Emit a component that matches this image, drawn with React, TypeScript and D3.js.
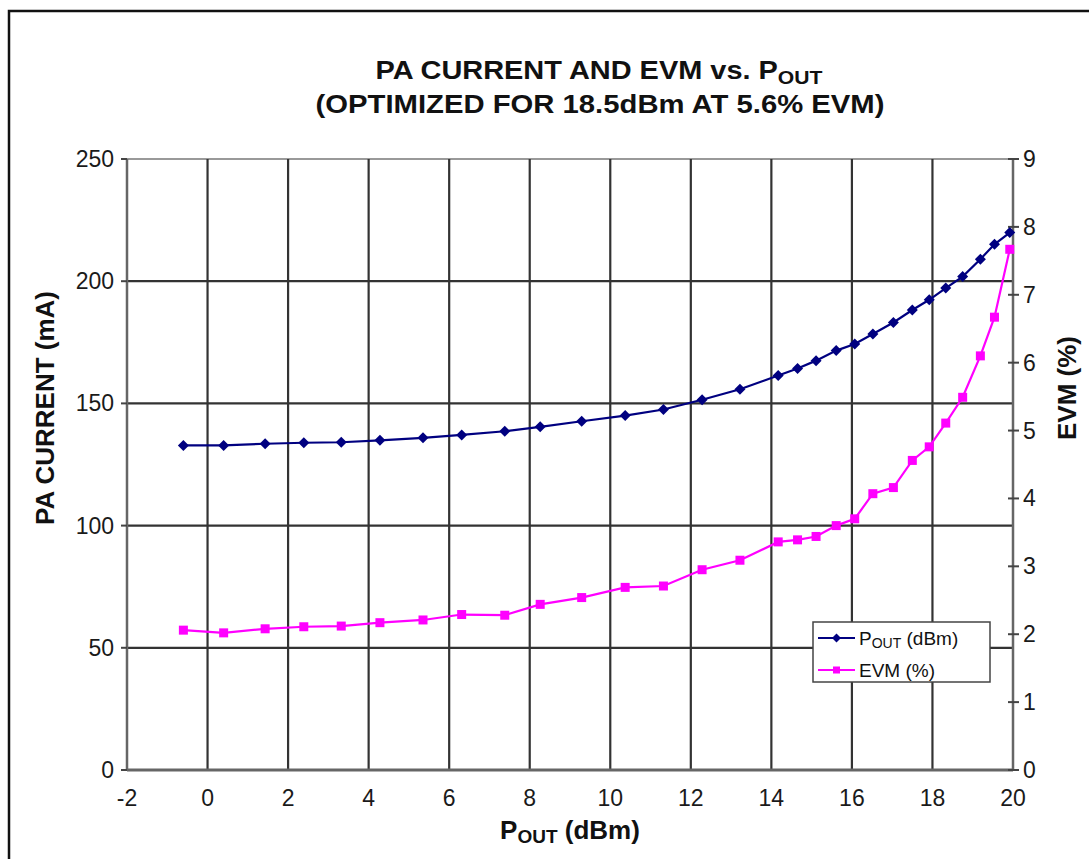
import React from "react";
import * as d3 from "d3";

const pout = [-0.6, 0.4, 1.43, 2.39, 3.32, 4.28, 5.35, 6.31, 7.38, 8.26, 9.29, 10.37, 11.32, 12.28, 13.22, 14.17, 14.65, 15.11, 15.61, 16.07, 16.52, 17.03, 17.5, 17.92, 18.33, 18.75, 19.19, 19.54, 19.92];
const paCurrent = [132.8, 132.8, 133.5, 133.9, 134.1, 134.9, 135.9, 137.1, 138.6, 140.4, 142.7, 145.0, 147.5, 151.5, 155.8, 161.4, 164.3, 167.5, 171.6, 174.3, 178.4, 183.1, 188.2, 192.4, 197.2, 201.9, 209.0, 215.1, 219.9];
const evm = [2.06, 2.02, 2.08, 2.11, 2.12, 2.17, 2.21, 2.29, 2.28, 2.44, 2.54, 2.69, 2.71, 2.95, 3.09, 3.36, 3.39, 3.44, 3.6, 3.7, 4.07, 4.16, 4.56, 4.76, 5.11, 5.49, 6.1, 6.67, 7.67];

const xTicks = [-2, 0, 2, 4, 6, 8, 10, 12, 14, 16, 18, 20];
const leftTicks = [0, 50, 100, 150, 200, 250];
const rightTicks = [0, 1, 2, 3, 4, 5, 6, 7, 8, 9];

const BLUE = "#000080";
const PINK = "#FF00FF";
const FONT = "'Liberation Sans', Arial, sans-serif";

export default function App() {
  const x = d3.scaleLinear().domain([-2, 20]).range([127, 1013]);
  const yL = d3.scaleLinear().domain([0, 250]).range([770, 159]);
  const yR = d3.scaleLinear().domain([0, 9]).range([770, 159]);

  const blueLine = d3.line<number>().x((_, i) => x(pout[i])).y((d) => yL(d))(paCurrent) || "";
  const pinkLine = d3.line<number>().x((_, i) => x(pout[i])).y((d) => yR(d))(evm) || "";

  const diamond = (cx: number, cy: number, r: number) =>
    `M${cx},${cy - r}L${cx + r},${cy}L${cx},${cy + r}L${cx - r},${cy}Z`;

  return (
    <svg width={1089} height={859} style={{ position: "absolute", left: 0, top: 0, background: "#fff" }} fontFamily={FONT}>
      <rect x={0} y={0} width={1089} height={859} fill="#fff" />
      {/* outer frame */}
      <path d="M9,859 V11 H1089" fill="none" stroke="#111" strokeWidth={2.5} />

      {/* title */}
      <text x={599} y={79} textAnchor="middle" fontSize={26} fontWeight="bold" fill="#111" textLength={447} lengthAdjust="spacingAndGlyphs">
        PA CURRENT AND EVM vs. P<tspan fontSize={19} dy={5}>OUT</tspan>
      </text>
      <text x={600} y={113} textAnchor="middle" fontSize={26} fontWeight="bold" fill="#111" textLength={569} lengthAdjust="spacingAndGlyphs">
        (OPTIMIZED FOR 18.5dBm AT 5.6% EVM)
      </text>

      {/* horizontal grid */}
      {leftTicks.map((t) => (
        <line key={"h" + t} x1={127} x2={1013} y1={yL(t)} y2={yL(t)} stroke={t === 250 ? "#999" : "#333"} strokeWidth={2.2} />
      ))}
      {/* vertical grid */}
      {xTicks.map((t) => (
        <line key={"v" + t} x1={x(t)} x2={x(t)} y1={159} y2={770} stroke={t === -2 || t === 20 ? "#666" : "#333"} strokeWidth={t === -2 || t === 20 ? 2.5 : 2.2} />
      ))}
      {/* x axis line */}
      <line x1={127} x2={1013} y1={770} y2={770} stroke="#666" strokeWidth={3} />

      {/* left ticks */}
      {leftTicks.map((t) => (
        <g key={"lt" + t}>
          <line x1={121} x2={127} y1={yL(t)} y2={yL(t)} stroke="#444" strokeWidth={2} />
          <text x={114} y={yL(t) + 8} textAnchor="end" fontSize={23} fill="#1a1a1a">{t}</text>
        </g>
      ))}
      {/* right ticks */}
      {rightTicks.map((t) => (
        <g key={"rt" + t}>
          <line x1={1008} x2={1019} y1={yR(t)} y2={yR(t)} stroke="#444" strokeWidth={2} />
          <text x={1023} y={yR(t) + 8} textAnchor="start" fontSize={23} fill="#1a1a1a">{t}</text>
        </g>
      ))}
      {/* bottom tick labels */}
      {xTicks.map((t) => (
        <text key={"xt" + t} x={x(t)} y={806} textAnchor="middle" fontSize={23} fill="#1a1a1a">{t}</text>
      ))}

      {/* axis titles */}
      <text x={570} y={839} textAnchor="middle" fontSize={26} fontWeight="bold" fill="#111">
        P<tspan fontSize={19} dy={4}>OUT</tspan><tspan dy={-4}> (dBm)</tspan>
      </text>
      <text transform="translate(54,408) rotate(-90)" textAnchor="middle" fontSize={26} fontWeight="bold" fill="#111">
        PA CURRENT (mA)
      </text>
      <text transform="translate(1076,388) rotate(-90)" textAnchor="middle" fontSize={26} fontWeight="bold" fill="#111">
        EVM (%)
      </text>

      {/* series */}
      <path d={pinkLine} fill="none" stroke={PINK} strokeWidth={2.2} />
      {evm.map((v, i) => (
        <rect key={"p" + i} x={x(pout[i]) - 4.5} y={yR(v) - 4.5} width={9} height={9} fill={PINK} />
      ))}
      <path d={blueLine} fill="none" stroke={BLUE} strokeWidth={2.2} />
      {paCurrent.map((v, i) => (
        <path key={"b" + i} d={diamond(x(pout[i]), yL(v), 5.5)} fill={BLUE} />
      ))}

      {/* legend */}
      <rect x={813} y={622} width={177} height={60} fill="#fff" stroke="#444" strokeWidth={1.5} />
      <line x1={818} x2={855} y1={638} y2={638} stroke={BLUE} strokeWidth={2} />
      <path d={diamond(836.5, 638, 4.5)} fill={BLUE} />
      <text x={859} y={645} fontSize={19} fill="#111">
        P<tspan fontSize={14} dy={3}>OUT</tspan><tspan dy={-3}> (dBm)</tspan>
      </text>
      <line x1={818} x2={855} y1={670} y2={670} stroke={PINK} strokeWidth={2} />
      <rect x={833} y={666.5} width={7} height={7} fill={PINK} />
      <text x={859} y={677} fontSize={19} fill="#111">EVM (%)</text>
    </svg>
  );
}
